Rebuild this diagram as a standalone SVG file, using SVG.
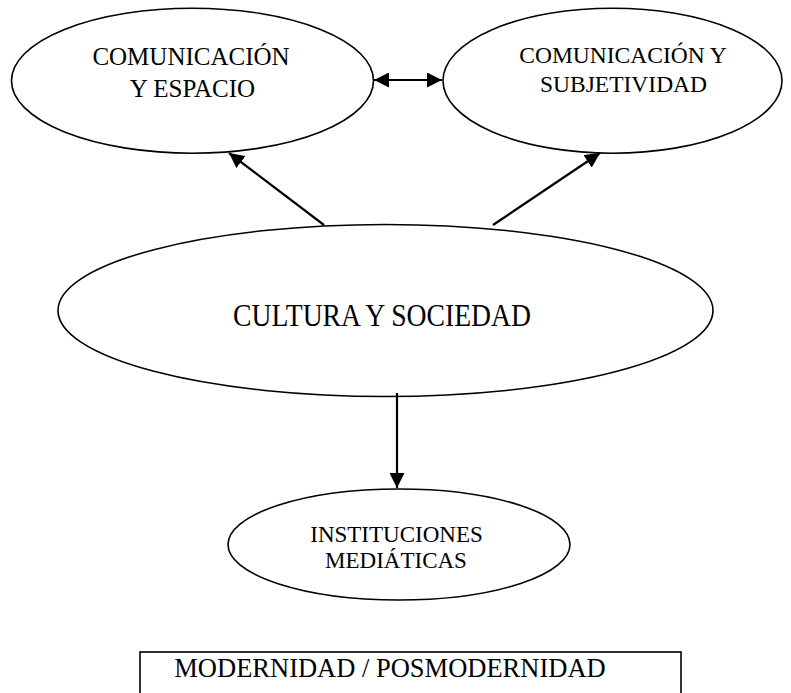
<svg xmlns="http://www.w3.org/2000/svg" width="791" height="693" viewBox="0 0 791 693">
<defs>
<style>
.node ellipse{fill:#fff;stroke:#000;stroke-width:1.6}
.box{fill:#fff;stroke:#000;stroke-width:1.6}
text{font-family:"Liberation Serif","Times New Roman",serif;fill:#000;text-anchor:middle}
.edge{stroke:#000;stroke-width:2.2;fill:none}
</style>
<marker id="ah" viewBox="0 0 10 10" refX="10" refY="5" markerWidth="15" markerHeight="15" markerUnits="userSpaceOnUse" orient="auto-start-reverse">
<path d="M0,0 L10,5 L0,10 Z" fill="#000"/>
</marker>
</defs>
<rect width="791" height="693" fill="#fff"/>
<g id="n1" class="node">
<ellipse cx="192.5" cy="80.7" rx="181" ry="72.5"/>
<text x="191" y="65" font-size="25">COMUNICACIÓN</text>
<text x="192.5" y="97" font-size="25">Y ESPACIO</text>
</g>
<g id="n2" class="node">
<ellipse cx="612.5" cy="80.7" rx="169.5" ry="72.5"/>
<text x="623" y="63" font-size="23.5">COMUNICACIÓN Y</text>
<text x="623.5" y="92" font-size="23.5">SUBJETIVIDAD</text>
</g>
<g id="n3" class="node">
<ellipse cx="385.5" cy="310.5" rx="327.5" ry="86"/>
<text x="382" y="326" font-size="31" textLength="298" lengthAdjust="spacingAndGlyphs">CULTURA Y SOCIEDAD</text>
</g>
<g id="n4" class="node">
<ellipse cx="399" cy="544.5" rx="171" ry="55.5"/>
<text x="396.5" y="542" font-size="23">INSTITUCIONES</text>
<text x="396" y="568" font-size="23">MEDIÁTICAS</text>
</g>
<g id="n5">
<rect class="box" x="140" y="652" width="541" height="60"/>
<text x="390" y="677" font-size="26.5">MODERNIDAD / POSMODERNIDAD</text>
</g>
<g id="connectors">
<line class="edge" x1="374" y1="80" x2="442" y2="80" marker-start="url(#ah)" marker-end="url(#ah)"/>
<line class="edge" x1="324" y1="225" x2="229" y2="153" marker-end="url(#ah)"/>
<line class="edge" x1="493" y1="225" x2="600" y2="153" marker-end="url(#ah)"/>
<line class="edge" x1="397" y1="393" x2="397" y2="488" marker-end="url(#ah)"/>
</g>
</svg>
